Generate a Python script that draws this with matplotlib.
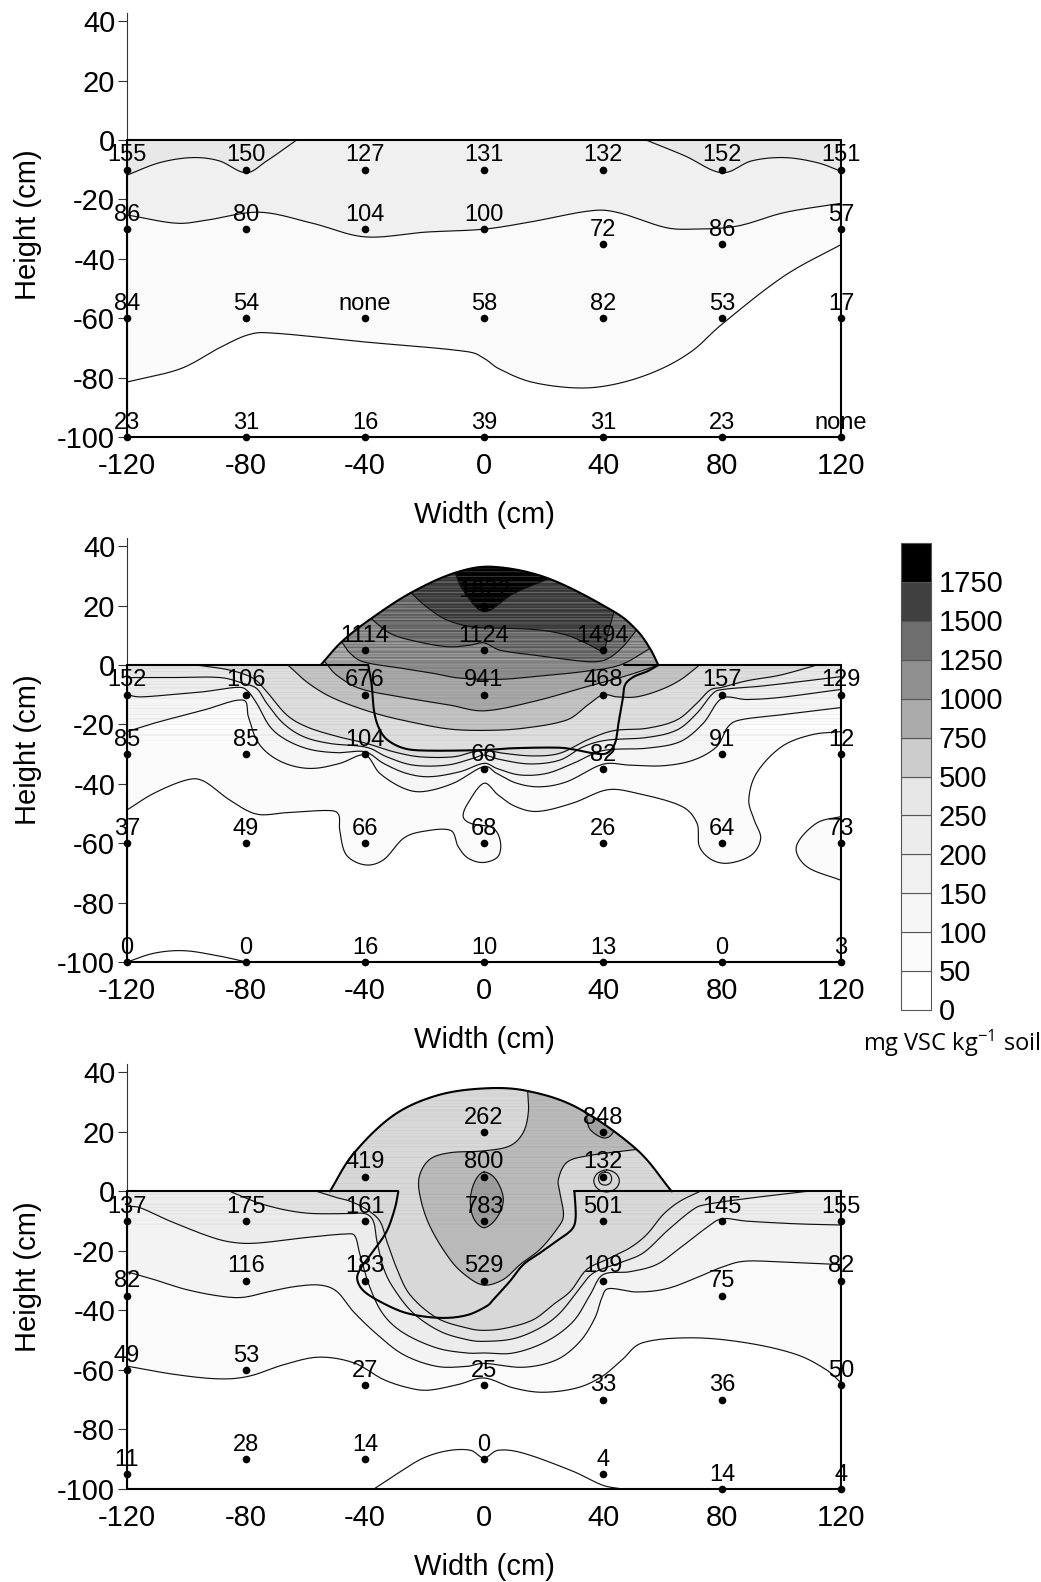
import numpy as np
import matplotlib
matplotlib.use('Agg')
import matplotlib.pyplot as plt
from matplotlib.patches import Polygon

plt.rcParams['font.family'] = ['Liberation Sans', 'DejaVu Sans']
plt.rcParams['axes.unicode_minus'] = False

# legend
levels = [0, 50, 100, 150, 200, 250, 500, 750, 1000, 1250, 1500, 1750]
level_greys = ['#ffffff', '#fbfbfb', '#f6f6f6', '#f0f0f0', '#ececec', '#e6e6e6',
               '#cccccc', '#ababab', '#909090', '#6e6e6e', '#404040', '#000000']
x_ticks = [-120, -80, -40, 0, 40, 80, 120]
y_ticks = [-100, -80, -60, -40, -20, 0, 20, 40]

# sampling points: x, y, label
p1_x = [-120, -80, -40, 0, 40, 80, 120] * 4
p1_y = [-10] * 7 + [-30, -30, -30, -30, -35, -35, -30] + [-60] * 7 + [-100] * 7
p1_labels = ['155', '150', '127', '131', '132', '152', '151',
             '86', '80', '104', '100', '72', '86', '57',
             '84', '54', 'none', '58', '82', '53', '17',
             '23', '31', '16', '39', '31', '23', 'none']

p2_x = [-40, 0, 40, 0] + [-120, -80, -40, 0, 40, 80, 120] * 4
p2_y = [5, 5, 5, 20] + [-10] * 7 + [-30, -30, -30, -35, -35, -30, -30] + [-60] * 7 + [-100] * 7
p2_labels = ['1114', '1124', '1494', '1822',
             '152', '106', '676', '941', '468', '157', '129',
             '85', '85', '104', '66', '82', '91', '12',
             '37', '49', '66', '68', '26', '64', '73',
             '0', '0', '16', '10', '13', '0', '3']

p3_x = [0, 40, -40, 0, 40] + [-120, -80, -40, 0, 40, 80, 120] * 4
p3_y = [20, 20, 5, 5, 5] + [-10] * 7 + [-35, -30, -30, -30, -30, -35, -30] + \
       [-60, -60, -65, -65, -70, -70, -65] + [-95, -90, -90, -90, -95, -100, -100]
p3_labels = ['262', '848', '419', '800', '132',
             '137', '175', '161', '783', '501', '145', '155',
             '82', '116', '183', '529', '109', '75', '82',
             '49', '53', '27', '25', '33', '36', '50',
             '11', '28', '14', '0', '4', '14', '4']

# panel 1 contours
p1_a_left = [(-120, -11.8), (-109, -7.6), (-98, -5.9), (-89, -7), (-80, -11), (-73, -7), (-63, 0)]
p1_a_right = [(54.5, 0), (67.5, -5.3), (80, -11), (90, -7), (101, -5.9), (112, -7.6), (120, -10.5)]
p1_b = [(-120, -25.2), (-103.5, -28), (-93.4, -27), (-75.5, -24.3), (-57.7, -28), (-40, -32.6),
        (-19.7, -31), (0, -30), (16, -27.5), (36, -23.8), (45, -24.4), (60.8, -29.4), (70, -30),
        (85, -29), (101, -24.4), (120, -21.3)]
p1_c = [(-120, -81.5), (-102, -77), (-89, -70), (-79, -65.5), (-71, -65), (-40, -68), (-6, -71.2),
        (0, -73.5), (5, -77), (16, -81.5), (32, -83.5), (45, -82), (58.6, -77.5), (70, -71), (80, -62),
        (101, -45.7), (120, -35.2)]

# panel 2 outline
p2_mound = [(-54.9, 0), (-47.8, 7.9), (-37.9, 15.7), (-24.5, 24.4), (-9.7, 31.1), (3.1, 33.1), (21.6, 29.2),
            (43.7, 18), (51.3, 11.8), (55.8, 5.6), (58.6, 0)]
p2_pit = [(-38.9, 0), (-37.8, -6.2), (-37, -15.2), (-35.5, -20.8), (-32.7, -25), (-27, -28), (-19.3, -28.8),
          (0, -28.6), (9.9, -28), (24.6, -27.8), (30, -28.4), (36.8, -29.7), (41.2, -29.7), (44, -26.4),
          (45.2, -19.6), (46.6, -11.8), (47.4, -6.7), (50.2, -4), (54.7, -2.2), (58.6, 0)]

# panel 2 contours
p2_1750 = [(-9.7, 31), (-7, 25.2), (0, 18), (9.8, 24), (21.5, 29)]
p2_1500 = [(-24.5, 24.3), (-19.3, 19.6), (-12.5, 15.2), (-3.6, 12.8), (7.6, 12.4), (18.8, 11.8), (27.8, 10.1),
           (34.5, 7.3), (40, 5), (41.7, 10.8), (43.7, 18)]
p2_1250 = [(-38, 15.7), (-31.6, 10.7), (-23.8, 8.2), (-12.5, 6.2), (-4.7, 6.7), (0, 7.5), (5.4, 5), (16.5, 3.4),
           (27.8, 1.9), (36.7, 1.1), (41.7, 2.2), (46.7, 6.2), (51.3, 11.8)]
p2_1000 = [(-47.8, 7.8), (-45, 4), (-40.6, 1.1), (-28.2, -1), (-17, -2.8), (-8, -4.4), (5.4, -4.8), (16.5, -3.9),
           (33.3, -2.2), (45.7, 0), (55.8, 5.6)]
p2_750 = [(-53.4, 1), (-49.5, -3.4), (-41.7, -7.9), (-28.2, -10.7), (-11.4, -13.5), (0, -15.4), (16.5, -12.3),
          (34.5, -7.3), (48.5, -3.4), (58.6, 0)]
p2_500 = [(-65.9, 0), (-58.9, -6.2), (-50.5, -11.2), (-37.4, -16), (-25.4, -19), (-12, -21.5), (0, -22),
          (13, -21.3), (27.8, -18.5), (34.8, -13.5), (40, -10), (44.6, -10.7), (51.3, -10.7), (59.2, -8.4),
          (66, -5), (72.4, 0)]
p2_250 = [(-96.6, 0), (-85.4, -1.7), (-77.5, -4.5), (-73, -9), (-66.3, -16.8), (-59.6, -20.8), (-49.5, -24),
          (-39.4, -26.4), (-30.4, -29.2), (-21.5, -30.9), (-10.3, -30.9), (-3.6, -29.2), (0, -28.6), (6.5, -29.7),
          (16.6, -30.6), (25.5, -29.7), (34.5, -25.3), (43.5, -22.1), (54.7, -21.3), (64.8, -18.5), (71.5, -12.9),
          (76, -8.4), (80, -7.5), (88.3, -5.3), (99.5, -3.4), (111.8, 0)]
p2_200 = [(-120, -4.2), (-105.5, -4.2), (-88.7, -4.2), (-80.9, -6.2), (-76.4, -7.9), (-73, -12.9), (-67.5, -19.6),
          (-60.7, -24.1), (-51.8, -26.4), (-39.4, -27.7), (-32.7, -30.9), (-23.8, -33.7), (-12.5, -33.7),
          (-3.6, -31.4), (0, -30.3), (5.4, -31.8), (15.5, -33.3), (25.5, -32), (33.4, -27.5), (41.2, -25.3),
          (54.7, -24.4), (64.8, -21.9), (71.5, -16.3), (77, -9.5), (80.4, -8.2), (94, -7), (120, -3.9)]
p2_150 = [(-120, -10), (-115.7, -10.7), (-105.5, -10), (-94.4, -9), (-83, -7.5), (-79.8, -8.4), (-76.4, -12.9),
          (-71.9, -20.8), (-66.3, -25.3), (-58.5, -28.4), (-49.5, -29.5), (-40, -29.2), (-33.8, -33.1), (-26, -36.5),
          (-18.2, -37.6), (-8, -35.9), (0, -33.1), (4.3, -34.8), (12, -37), (21, -36.5), (30, -33.1), (40, -28.8),
          (54.7, -28), (65.9, -25.8), (73.7, -19.6), (80, -11.2), (88.3, -11.6), (99.5, -10.9), (120, -8.2)]
p2_100 = [(-120, -22.4), (-111, -19.6), (-94.4, -15.2), (-81, -11.8), (-79.2, -17.4), (-76.4, -25.3), (-71.9, -30.3),
          (-65.2, -33.7), (-57.4, -34.8), (-48.4, -33.1), (-40, -30.3), (-35, -36.5), (-27, -41.5), (-20.4, -42.6),
          (-10.3, -39.8), (0, -34.2), (4.3, -36.5), (11, -39.8), (18.8, -41), (27.8, -39.3), (40, -33.4), (49, -33.7),
          (60.3, -33.9), (70.4, -32), (78.2, -27.5), (82, -20.8), (86, -18.5), (99.5, -16.8), (120, -14.3)]
p2_50 = [(-120, -48.8), (-111, -43.2), (-100, -38.7), (-94.4, -39), (-85.4, -45.5), (-76.4, -50.2), (-66.3, -49.7),
         (-51.7, -49), (-48.8, -50.5), (-48.5, -55.5), (-46.3, -63.9), (-40, -67.3), (-33.8, -65.6), (-27, -58.3),
         (-20.4, -56), (-11.2, -55.7), (-8.7, -61.1), (-5.4, -65), (-0.3, -66.5), (4.7, -64.5), (5.5, -59.4),
         (3, -54.9), (-4.5, -53.3), (-7, -51), (-5.4, -46.5), (0, -39.8), (4.7, -43.7), (10.5, -47.6), (18, -49.3),
         (29.8, -46.5), (41.5, -42), (51.5, -43.2), (66.5, -47.6), (71.6, -53.3), (72.4, -61.1), (76.6, -65.6),
         (82.4, -66.7), (90, -63.9), (93, -58.3), (90.8, -52.1), (89, -45.4), (91.6, -36.4), (100, -27.5),
         (110, -23.5), (120, -22.4)]
p2_blob = [(120, -51), (111.7, -53.3), (105, -61.1), (108.4, -67.8), (120, -72.5)]
p2_bottom = [(-120, -100), (-110.7, -97), (-100.7, -96.2), (-89, -98), (-79.8, -100)]

# panel 3 outline
p3_mound = [(-51.8, 0), (-44, 12.5), (-30.5, 25.5), (-15.9, 32.2), (0, 34.6), (14.3, 33.8), (31.2, 28.2),
            (51.3, 14.1), (63.1, 0)]
p3_pit = [(-28.8, 0), (-29.9, -5.5), (-32.7, -13.4), (-37.2, -20), (-41.7, -26.3), (-42.6, -29.6), (-40.6, -33.3),
          (-35, -37), (-26, -40.9), (-14.8, -42.5), (-5.8, -41.6), (1, -38.5), (3.1, -36.4), (8.7, -30.2), (13.2, -24.6),
          (18.8, -20.7), (24.4, -16.7), (29.5, -12.8), (30.8, -8.9), (30.4, 0)]

# panel 3 contours
p3_750 = [(14.7, 33.4), (14.9, 26.5), (13.2, 19.8), (8.7, 15.3), (-0.2, 13.6), (-11.4, 13), (-18.2, 10.8), (-21.7, 5.2),
          (-21.5, -1.6), (-18.2, -11.7), (-11.4, -22.9), (-5.8, -28.5), (0, -31.5), (6.5, -29.6), (12.1, -24.6),
          (18.8, -19.5), (24.4, -12.8), (26.7, -8.3), (25.5, -0.4), (25, 4), (27.8, 9.7), (34.5, 11.9), (51.3, 14.1)]
p3_core = [(0, 6.5), (4, 4), (6.5, -2.7), (4.2, -9), (0, -12.2), (-3.5, -9), (-4.6, -2.7), (-3, 3.5)]
p3_blob = [(34.5, 24.8), (35.6, 20.9), (39.6, 18.1), (42.4, 18.6), (44.6, 22)]
p3_ring1 = [(41.2, 7.2), (44.3, 6), (45.5, 3.5), (44.3, 1), (41.2, -0.2), (38.1, 1), (36.9, 3.5), (38.1, 6)]
p3_ring2 = [(40.7, 6.5), (42.3, 5.9), (42.9, 4.3), (42.3, 2.7), (40.7, 2.1), (39.1, 2.7), (38.5, 4.3), (39.1, 5.9)]
p3_y_line = [(-56.2, 0), (-49.5, -2.1), (-45, -3.3), (-39.4, -6.1), (-35, -10), (-32.7, -16.7), (-29.4, -25.7),
             (-24.9, -34.7), (-15.9, -42.5), (-5.8, -45.9), (0, -46.7), (7.6, -45.9), (16.6, -43.1), (23.3, -38),
             (29, -33.6), (34.5, -26.3), (41.2, -22.9), (49, -19), (54.7, -14.5), (60.3, -7.7), (65.9, -3.3), (72.6, 0)]
p3_x_line = [(-85.4, 0), (-74.2, -4.4), (-60.7, -7.2), (-46.2, -7.5), (-39.9, -7.5), (-37.2, -10), (-36, -16.7),
             (-33.8, -25.7), (-30.5, -32.4), (-23.8, -40.9), (-14.8, -47), (-5.8, -49.8), (0, -50.4), (9.9, -49.5),
             (18.8, -45.9), (25.5, -40.9), (32.3, -32.4), (36.8, -27.4), (45.7, -24), (53.5, -20.7), (61.4, -13.4),
             (70.4, -6), (74.8, -4.4), (88.3, -2.4), (108.5, 0)]
p3_z_line = [(-120, -5), (-115.6, -5.5), (-105.5, -10), (-91, -15.6), (-83, -17.3), (-75.3, -17.3), (-60.7, -15.6),
             (-46.2, -14.3), (-43.4, -15), (-41.7, -21.2), (-38.3, -32.4), (-33.8, -41.4), (-27, -47.6), (-15.9, -52.6),
             (-5.8, -54.3), (0, -54.3), (9.9, -54.3), (21, -50.4), (30, -43.7), (35.7, -34.7), (40, -28), (49, -27),
             (58, -24.6), (65.9, -19), (74.8, -12.2), (80, -9.2), (88.3, -10), (105, -10.9), (120, -11.3)]
p3_w_line = [(-120, -27), (-111, -29.6), (-100, -33), (-88.7, -35.2), (-81, -35.6), (-71.9, -33.6), (-63, -31.9),
             (-55, -31.5), (-49.5, -33.6), (-44, -40.3), (-36, -48), (-27, -54.9), (-15.9, -58.8), (-5.8, -58.8),
             (0, -57.8), (13.2, -59.1), (24.4, -56.6), (32.3, -50.4), (37.3, -42.5), (39.6, -35.8), (41.8, -32.7),
             (51.3, -33.8), (61.4, -32.7), (71.5, -29), (79.3, -25.7), (87.2, -23.5), (99.5, -23.7), (120, -24.6)]
p3_v_line = [(-120, -58.7), (-104, -61.5), (-89, -63), (-79, -62.1), (-67.2, -58.2), (-55.5, -55.7), (-43.8, -57.6),
             (-33.8, -63.2), (-25.4, -66), (-18.7, -66.8), (-8.7, -64.9), (0, -62.7), (9.7, -66), (19.7, -67.5),
             (31.4, -66), (39.8, -62.1), (46.5, -56.5), (53.2, -50.9), (69.9, -49.2), (88.3, -50.9), (105, -54.8),
             (115, -59.9), (120, -64.3)]
p3_bottom = [(-37, -100), (-28.8, -94.6), (-20.4, -89.6), (-12, -87.1), (-4.5, -87), (0, -89.6), (4.7, -87), (13, -87.9),
             (29.8, -94), (39.8, -98.7), (46.5, -100)]


def curve(pts, closed=False):
    # centripetal catmull-rom through the read points
    p = np.array(pts, dtype=float)
    if closed:
        p = np.vstack([p[-1], p, p[0], p[1]])
    else:
        p = np.vstack([2 * p[0] - p[1], p, 2 * p[-1] - p[-2]])
    knots = np.r_[0, np.cumsum(np.linalg.norm(np.diff(p, axis=0), axis=1) ** 0.5)]
    s = np.linspace(0, 1, 14)[:, None]
    out = []
    for i in range(1, len(p) - 2):
        dt = knots[i + 1] - knots[i]
        m0 = (p[i + 1] - p[i - 1]) / (knots[i + 1] - knots[i - 1]) * dt
        m1 = (p[i + 2] - p[i]) / (knots[i + 2] - knots[i]) * dt
        out.append((2 * s ** 3 - 3 * s ** 2 + 1) * p[i] + (s ** 3 - 2 * s ** 2 + s) * m0
                   + (-2 * s ** 3 + 3 * s ** 2) * p[i + 1] + (s ** 3 - s ** 2) * m1)
    return np.vstack(out)


def above(line):
    c = curve(line)
    return np.vstack([c, [[c[-1, 0], 60], [c[0, 0], 60]]])


def add_streaks(ax, clip, bands):
    # horizontal banding of the scanned shading, one row per pixel
    rows = np.arange(-100, 42.8, 1 / 2.97)
    wave = np.sin(rows * 5.3) * np.sin(rows * 1.7 + 0.6) + 0.5 * np.sin(rows * 13.1)
    amp = np.zeros_like(rows)
    for low, high, a in bands:
        amp[(rows >= low) & (rows < high)] = a
    img = np.zeros((len(rows), 1, 4))
    img[:, 0, :3] = (wave > 0)[:, None]
    img[:, 0, 3] = amp * np.minimum(np.abs(wave), 1)
    im = ax.imshow(img, extent=(-120, 120, rows[0], rows[-1]), origin='lower', aspect='auto',
                   interpolation='nearest', zorder=1.5)
    im.set_clip_path(clip)


def draw_panel(ax, fills, lines, closed, domain, outlines, xs, ys, labels, bands=None):
    clip = Polygon(domain, transform=ax.transData, fc='none', ec='none')
    ax.add_patch(clip)
    for poly, grey in fills:
        art = ax.fill(poly[:, 0], poly[:, 1], color=grey, lw=0, zorder=1)[0]
        art.set_clip_path(clip)
    if bands:
        add_streaks(ax, clip, bands)
    for line in lines:
        c = curve(line)
        art = ax.plot(c[:, 0], c[:, 1], color='#111111', lw=0.85, zorder=2)[0]
        art.set_clip_path(clip)
    for line in closed:
        c = curve(line, closed=True)
        ax.plot(c[:, 0], c[:, 1], color='#111111', lw=0.85, zorder=2)
    for ox, oy in outlines:
        ax.plot(ox, oy, color='black', lw=1.5, zorder=3, clip_on=False, solid_capstyle='round')
    ax.plot(xs, ys, 'o', color='black', ms=5.5, zorder=4, clip_on=False, mec='none')
    for x, y, s in zip(xs, ys, labels):
        ax.annotate(s, (x, y), xytext=(0, 10.3), textcoords='offset points', ha='center', va='center',
                    fontsize=17, color='black', zorder=5, annotation_clip=False)

    ax.set_xlim(-120, 120)
    ax.set_ylim(-100, 42.8)
    ax.set_xticks(x_ticks)
    ax.set_yticks(y_ticks)
    ax.tick_params(axis='x', length=0, pad=11, labelsize=21)
    ax.tick_params(axis='y', length=6.5, width=0.8, pad=2, labelsize=21, color='#333333')
    for side in ['top', 'right', 'bottom']:
        ax.spines[side].set_visible(False)
    ax.spines['left'].set_linewidth(0.8)
    ax.spines['left'].set_color('#333333')
    ax.set_xlabel('Width (cm)', fontsize=21, va='center')
    ax.set_ylabel('Height (cm)', fontsize=21, va='center')
    ax.xaxis.set_label_coords(0.5, -0.184)
    ax.yaxis.set_label_coords(-0.139, 0.5)
    ax.patch.set_alpha(0)


W, H = 1041, 1582
fig = plt.figure(figsize=(W / 100, H / 100), dpi=100)


def panel_axes(top, bottom):
    return fig.add_axes([127 / W, 1 - bottom / H, 714 / W, (bottom - top) / H])


# panel 1
ax1 = panel_axes(13, 437)
rect = [(-120, -100), (-120, 0), (120, 0), (120, -100)]
fills1 = [(above(p1_c), '#fafafa'), (above(p1_b), '#f0f0f0'),
          (above(p1_a_left), '#e8e8e8'), (above(p1_a_right), '#e8e8e8')]
lines1 = [p1_a_left, p1_a_right, p1_b, p1_c]
outline1 = [([-120, -120, 120, 120], [0, -100, -100, 0]), ([-120, 120], [0, 0])]
draw_panel(ax1, fills1, lines1, [], rect, outline1, p1_x, p1_y, p1_labels)

# panel 2
ax2 = panel_axes(538, 962)
m2 = curve(p2_mound)
dom2 = np.vstack([[(-120, -100), (-120, 0)], m2, [(120, 0), (120, -100)]])
fills2 = [(above(p2_50), '#fbfbfb'), (curve(p2_blob), '#fbfbfb'),
          (above(p2_100), '#f5f5f5'), (above(p2_150), '#eeeeee'), (above(p2_200), '#e8e8e8'),
          (above(p2_250), '#dddddd'), (above(p2_500), '#c2c2c2'), (above(p2_750), '#a6a6a6'),
          (above(p2_1000), '#8a8a8a'), (above(p2_1250), '#6a6a6a'), (above(p2_1500), '#404040'),
          (above(p2_1750), '#000000')]
lines2 = [p2_1750, p2_1500, p2_1250, p2_1000, p2_750, p2_500, p2_250, p2_200, p2_150, p2_100, p2_50,
          p2_blob, p2_bottom]
c = curve(p2_pit)
outline2 = [([-120, -120, 120, 120], [0, -100, -100, 0]), ([-120, -38.9], [0, 0]), ([47, 120], [0, 0]),
            (m2[:, 0], m2[:, 1]), (c[:, 0], c[:, 1])]
draw_panel(ax2, fills2, lines2, [], dom2, outline2, p2_x, p2_y, p2_labels,
           bands=[(-26, 0, 0.05), (0, 45, 0.2)])

# panel 3
ax3 = panel_axes(1064, 1489)
m3 = curve(p3_mound)
dom3 = np.vstack([[(-120, -100), (-120, 0)], m3, [(120, 0), (120, -100)]])
fills3 = [(above(p3_v_line), '#fafafa'), (above(p3_w_line), '#f3f3f3'), (above(p3_z_line), '#ececec'),
          (above(p3_x_line), '#e2e2e2'), (above(p3_y_line), '#d8d8d8'),
          (np.vstack([curve(p3_750), [(62, 60), (14.7, 60)]]), '#b9b9b9'),
          (above(p3_blob), '#a0a0a0'), (curve(p3_core, closed=True), '#9c9c9c')]
lines3 = [p3_750, p3_blob, p3_y_line, p3_x_line, p3_z_line, p3_w_line, p3_v_line, p3_bottom]
c = curve(p3_pit)
outline3 = [([-120, -120, 120, 120], [0, -100, -100, 0]), ([-120, -28.8], [0, 0]), ([30.4, 120], [0, 0]),
            (m3[:, 0], m3[:, 1]), (c[:, 0], c[:, 1])]
draw_panel(ax3, fills3, lines3, [p3_core, p3_ring1, p3_ring2], dom3, outline3, p3_x, p3_y, p3_labels,
           bands=[(-12, 36, 0.04)])

# legend
lax = fig.add_axes([901 / W, 1 - 1010 / H, 30 / W, 467 / H])
lax.bar(0.5, 1, width=1, bottom=np.arange(len(levels)), color=level_greys, edgecolor='#555555',
        linewidth=0.8, clip_on=False)
lax.set_xlim(0, 1)
lax.set_ylim(0, len(levels))
lax.axis('off')
for i, lev in enumerate(levels):
    lax.text(1.25, i - 0.06, str(lev), fontsize=21, ha='left', va='center', color='black', clip_on=False)
fig.text(952 / W, 1 - 1043 / H, r'mg VSC kg$\mathregular{^{-1}}$ soil', fontsize=17, family='Open Sans',
         ha='center', va='center')

fig.savefig('out.png', dpi=100)
